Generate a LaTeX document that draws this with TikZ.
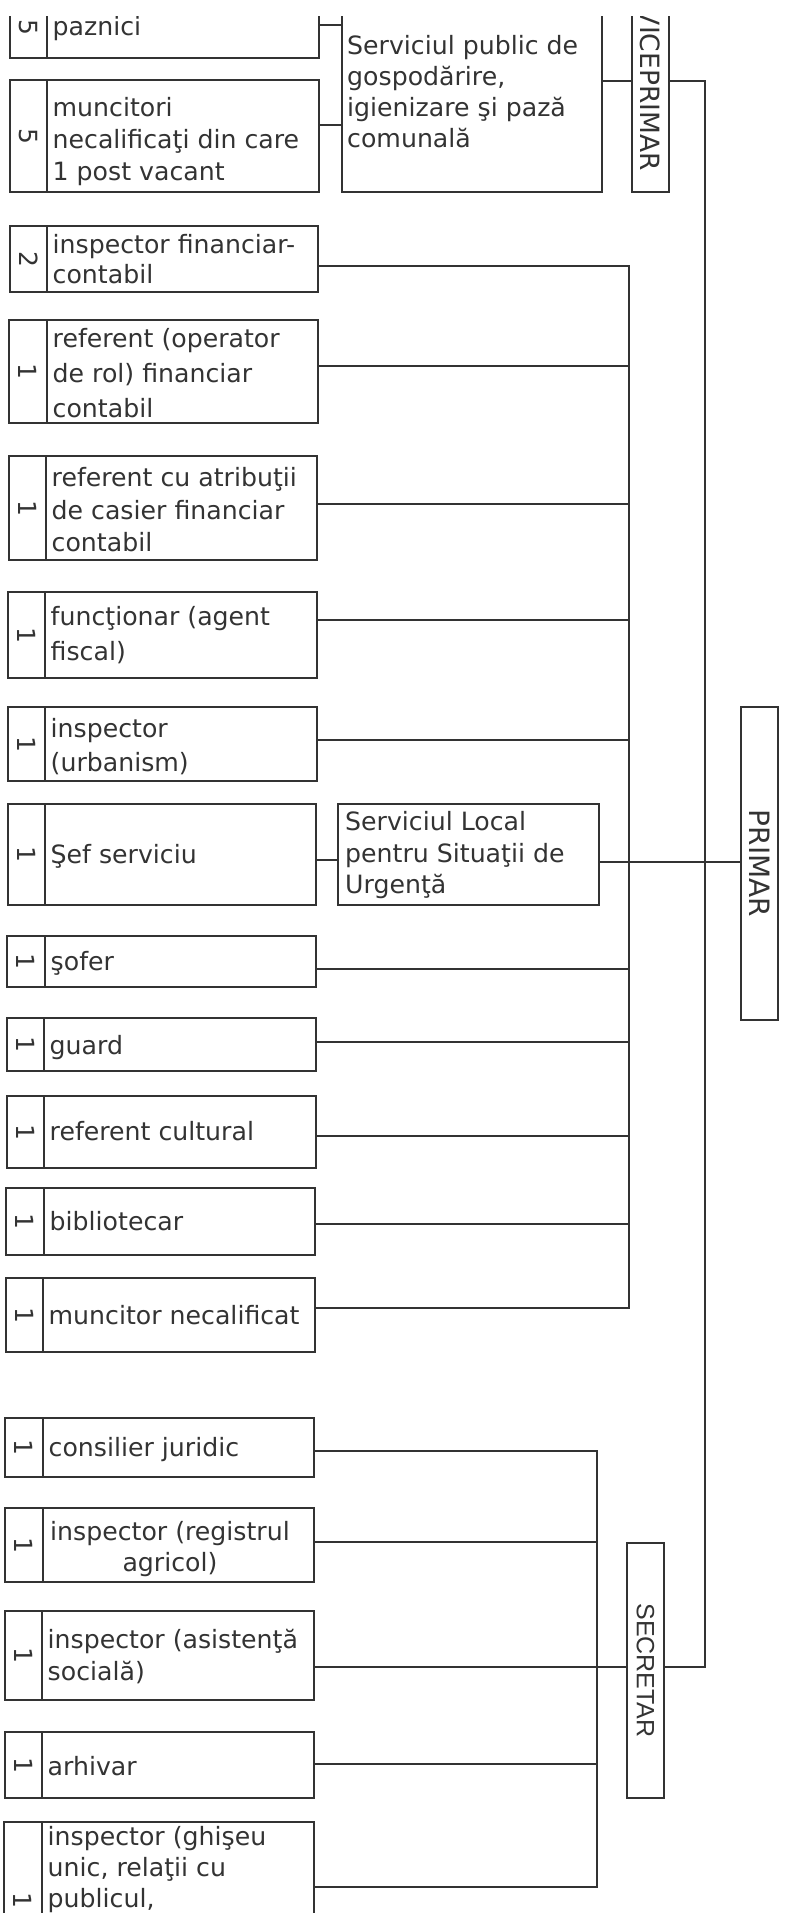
\documentclass[tikz,border=0pt]{standalone}
\usepackage{fontspec}
\setmainfont{DejaVu Sans}
\newfontfamily\arialf{Liberation Sans}
\definecolor{ink}{HTML}{333333}
\newcommand\postbox[7]{%
  \node[boxst, anchor=north west, minimum width={(#4-#2)*1pt}, minimum height={(#5-#3)*1pt}] (#1) at (#2,#3) {};
  \draw[boxline] (#6,#3) -- (#6,#5);
  \node[numst] (#1n) at ({(#2+#6)/2},{(#3+#5)/2}) {#7};
}
\begin{document}
\begin{tikzpicture}[x=1pt,y=-1pt,
  boxst/.style={draw=ink, line width=1.9pt, inner sep=0pt, outer sep=0pt},
  boxline/.style={draw=ink, line width=1.9pt},
  conn/.style={draw=ink, line width=1.6pt},
  txt/.style={text=ink, inner sep=0pt, align=left, anchor=west, yshift=-2.5pt, font=\fontsize{25.2}{#1}\selectfont},
  txt/.default=32,
  numst/.style={text=ink, inner sep=0pt, rotate=-90, font=\fontsize{25}{25}\selectfont},
  vlabel/.style={text=ink, inner sep=0pt, rotate=-90, font=\fontsize{28}{28}\selectfont}]
\path[use as bounding box] (0,0) rectangle (785,1913);
\begin{scope}
\clip (0,17) rectangle (785,1913);
% bus coordinates
\coordinate (pb) at (629,0);
\coordinate (lv) at (705,0);
\coordinate (sb) at (597,0);
% left boxes
\postbox{paz}{10}{-4}{319}{58}{47}{5}
\postbox{mun}{10}{80}{319}{192}{47}{5}
\postbox{fin}{10}{226}{318}{292}{47}{2}
\postbox{rop}{9}{320}{318}{423}{47}{1}
\postbox{rca}{9}{456}{317}{560}{46}{1}
\postbox{fun}{8}{592}{317}{678}{45}{1}
\postbox{urb}{8}{707}{317}{781}{45}{1}
\postbox{sef}{8}{804}{316}{905}{45}{1}
\postbox{sof}{7}{936}{316}{987}{45}{1}
\postbox{gua}{7}{1018}{316}{1071}{44}{1}
\postbox{rcu}{7}{1096}{316}{1168}{44}{1}
\postbox{bib}{6}{1188}{315}{1255}{44}{1}
\postbox{mnc}{6}{1278}{315}{1352}{43}{1}
\postbox{con}{5}{1418}{314}{1477}{43}{1}
\postbox{reg}{5}{1508}{314}{1582}{43}{1}
\postbox{asi}{5}{1611}{314}{1700}{42}{1}
\postbox{arh}{5}{1732}{314}{1798}{42}{1}
\postbox{ghi}{4}{1822}{314}{1978}{42}{1}
% service boxes
\node[boxst, anchor=north west, minimum width=260pt, minimum height=198pt] (sp) at (342,-6) {};
\node[boxst, anchor=north west, minimum width=261pt, minimum height=101pt] (slsu) at (338,804) {};
% rotated boxes
\node[boxst, anchor=north west, minimum width=37pt, minimum height=210pt] (vice) at (632,-18) {};
\node[text=ink, inner sep=0pt, rotate=-90, anchor=east, font=\fontsize{26.5}{26.5}\selectfont] (vicel) at (650.5,171) {VICEPRIMAR};
\node[boxst, anchor=north west, minimum width=37pt, minimum height=313pt] (primar) at (741,707) {};
\node[vlabel] (primarl) at (primar.center) {PRIMAR};
\node[boxst, anchor=north west, minimum width=37pt, minimum height=255pt] (secr) at (627,1543) {};
\node[text=ink, inner sep=0pt, rotate=-90, font={\fontsize{25}{25}\arialf}] (secrl) at (secr.center) {SECRETAR};
% texts
\node[txt] (pazt) at (52.5,27) {\strut paznici};
\node[txt=31] (spt) at (347,92) {\strut Serviciul public de\\\strut gospodărire,\\\strut igienizare şi pază\\\strut comunală};
\node[txt] (munt) at (52.5,140) {\strut muncitori\\\strut necalificaţi din care\\\strut 1 post vacant};
\node[txt=30] (fint) at (52.5,260) {\strut inspector financiar-\\\strut contabil};
\node[txt=35] (ropt) at (52.5,373) {\strut referent (operator\\\strut de rol) financiar\\\strut contabil};
\node[txt=32.5] (rcat) at (51.5,510) {\strut referent cu atribuţii\\\strut de casier financiar\\\strut contabil};
\node[txt=35] (funt) at (50.5,633.5) {\strut funcţionar (agent\\\strut fiscal)};
\node[txt=34] (urbt) at (50.5,745) {\strut inspector\\\strut (urbanism)};
\node[txt] (seft) at (50.5,855) {\strut Şef serviciu};
\node[txt=31.5] (slsut) at (345,853.5) {\strut Serviciul Local\\\strut pentru Situaţii de\\\strut Urgenţă};
\node[txt] (soft) at (50.5,962) {\strut şofer};
\node[txt] (guat) at (49.5,1046) {\strut guard};
\node[txt] (rcut) at (49.5,1132) {\strut referent cultural};
\node[txt] (bibt) at (49.5,1222) {\strut bibliotecar};
\node[txt] (mnct) at (48.5,1316) {\strut muncitor necalificat};
\node[txt] (cont) at (48.5,1448) {\strut consilier juridic};
\node[txt=31, align=center, anchor=center] (regt) at (170,1547.5) {\strut inspector (registrul\\\strut agricol)};
\node[txt] (asit) at (47.5,1656) {\strut inspector (asistenţă\\\strut socială)};
\node[txt] (arht) at (47.5,1767) {\strut arhivar};
\node[txt=31] (ghit) at (47.5,1868) {\strut inspector (ghişeu\\\strut unic, relaţii cu\\\strut publicul,};
% connectors
\draw[conn] (paz.east |- 0,25) -- (sp.west |- 0,25);
\draw[conn] (mun.east |- 0,125) -- (sp.west |- 0,125);
\draw[conn] (sp.east |- 0,81) -- (vice.west |- 0,81);
\draw[conn] (vice.east |- 0,81) -| (lv |- 0,1667) -- (secr.east |- 0,1667);
\draw[conn] (fin.east |- 0,266) -| (pb |- 0,1308) -- (mnc.east |- 0,1308);
\foreach \n/\y in {rop/366, rca/504, fun/620, urb/740, sof/969, gua/1042, rcu/1136, bib/1224}
  \draw[conn] (\n.east |- 0,\y) -- (pb |- 0,\y);
\draw[conn] (sef.east |- 0,860) -- (slsu.west |- 0,860);
\draw[conn] (slsu.east |- 0,862) -- (primar.west |- 0,862);
\draw[conn] (con.east |- 0,1451) -| (sb |- 0,1887) -- (ghi.east |- 0,1887);
\foreach \n/\y in {reg/1542, arh/1764}
  \draw[conn] (\n.east |- 0,\y) -- (sb |- 0,\y);
\draw[conn] (asi.east |- 0,1667) -- (secr.west |- 0,1667);
\end{scope}
\end{tikzpicture}
\end{document}
